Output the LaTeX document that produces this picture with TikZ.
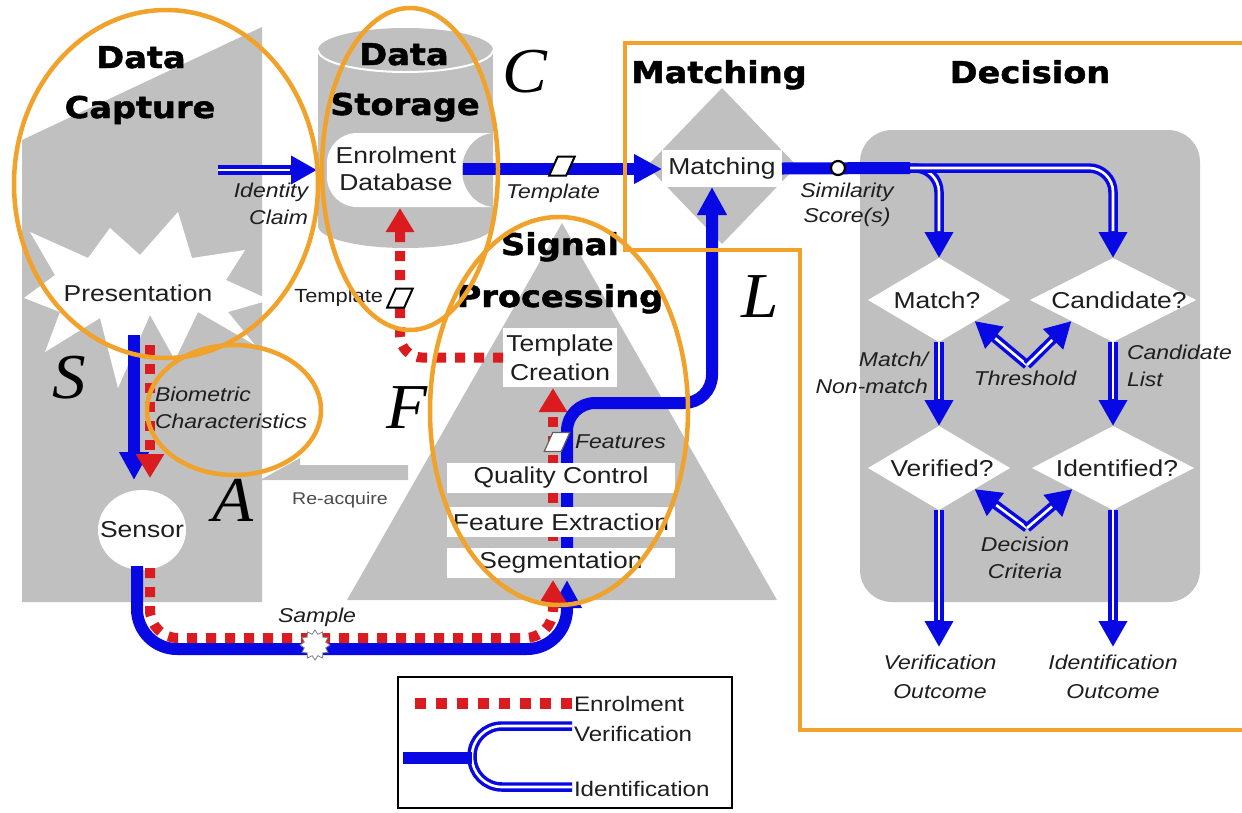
\documentclass[tikz,border=0pt]{standalone}
\usepackage{fontspec}
\setmainfont{Liberation Sans}[FakeStretch=1.15]
\newfontfamily\headfont{DejaVu Sans Bold}[FakeStretch=1.12, RawFeature={embolden=1.6}]
\newfontfamily\letterfont{Liberation Serif}[FakeStretch=1.05]
\usetikzlibrary{arrows.meta,shapes.geometric}

\definecolor{panel}{RGB}{192,192,192}
\definecolor{ringc}{RGB}{240,162,42}
\definecolor{flow}{RGB}{8,8,228}
\definecolor{enrol}{RGB}{218,28,32}
\definecolor{ink}{RGB}{30,30,30}

\tikzset{
  every node/.style={inner sep=0pt, outer sep=0pt, text=ink},
  headtxt/.style={font=\headfont\fontsize{30}{30}\selectfont, text=black, anchor=base},
  lbltxt/.style={font=\fontsize{23}{29}\selectfont, align=center},
  notetxt/.style={font=\itshape\fontsize{20}{27}\selectfont, align=center},
  bigletter/.style={font=\letterfont\itshape\fontsize{64}{64}\selectfont, text=black},
  stagebox/.style={fill=white, minimum height=30pt, minimum width=228pt, lbltxt},
  ringline/.style={draw=ringc, line width=4.5pt},
  thickflow/.style={draw=flow, line width=12pt},
  bigtip/.style={-{Triangle[length=28pt,width=28pt]}},
  enroldash/.style={draw=enrol, line width=10pt, dash pattern=on 10pt off 9pt},
  enrolarrow/.style={enroldash, -{Triangle[length=24pt,width=27pt]}},
  twinpath/.style={draw=flow, line width=9.5pt, postaction={draw=white, line width=2.6pt}},
  twinarrow/.style={draw=flow, line width=9.5pt, -{Triangle[length=26pt,width=27pt]},
     postaction={draw=white, line width=2.6pt, -, shorten >=27pt}},
  paramshape/.style={draw=black, fill=white, line width=2pt, minimum width=17pt, minimum height=19pt, xslant=0.45},
  verdictshape/.style={diamond, fill=white, minimum height=84pt},
}

\begin{document}
\begin{tikzpicture}[x=1pt,y=-1pt]
\useasboundingbox (0,0) rectangle (1242,812);
\fill[white] (0,0) rectangle (1242,812);

% ---------- grey stage panels ----------
\fill[panel] (22,140) -- (262,27) -- (262,602) -- (22,602) -- cycle;
% re-acquire arrow back into data capture
\fill[panel] (408,465) -- (300,465) -- (300,458) -- (262,479) -- (262,480) -- (408,480) -- cycle;
% storage cylinder
\fill[panel] (318,50) rectangle (493,226);
\fill[panel] (405.5,226) ellipse [x radius=87.5, y radius=22];
\fill[panel] (405.5,50) ellipse [x radius=87.5, y radius=22];
\draw[white, line width=2pt] (318,50) arc [start angle=180, end angle=0, x radius=87.5, y radius=22];
% signal processing pyramid
\fill[panel] (347,600) -- (562,223) -- (777,600) -- cycle;
% matching diamond
\node[diamond, fill=panel, minimum width=150pt, minimum height=156pt] (mdia) at (722,166) {};
% decision panel
\fill[panel, rounded corners=32pt] (860,130) rectangle (1200,602);

% ---------- white shapes ----------
% presentation burst
\fill[white] (30,232) -- (88,258) -- (110,228) -- (140,255) -- (178,212) -- (192,258)
  -- (245,250) -- (226,280) -- (270,300) -- (228,312) -- (255,345) -- (198,312)
  -- (175,360) -- (150,315) -- (118,388) -- (100,318) -- (45,352) -- (60,312)
  -- (24,298) -- (55,275) -- cycle;
\node[lbltxt] (pres) at (138,293) {Presentation};
% enrolment database drum
\begin{scope}
  \clip (318,100) rectangle (493,240);
  \node[fill=white, rounded corners=30pt, minimum width=200pt, minimum height=74pt, anchor=west] (dbshape) at (327,170) {};
  \fill[panel] (495,170) ellipse [x radius=33, y radius=37];
\end{scope}
\node[font=\fontsize{23}{27}\selectfont, align=center, minimum width=134pt, minimum height=74pt] (db) at (396,169) {Enrolment\\Database};
% sensor
\node[ellipse, fill=white, minimum width=88pt, minimum height=80pt] (sensor) at (142,530) {};
\node[lbltxt] (sensortxt) at (sensor) {Sensor};
% decision diamonds
\node[verdictshape, minimum width=142pt] (match) at (939,300) {};
\node[verdictshape, minimum width=166pt] (cand) at (1113,300) {};
\node[verdictshape, minimum width=142pt] (verif) at (939,468) {};
\node[verdictshape, minimum width=162pt] (ident) at (1113,468) {};

% ---------- way points ----------
\coordinate (presB) at (134,335);
\coordinate (sensInB) at (134,480);
\coordinate (presR) at (150,345);
\coordinate (sensInR) at (150,478);
\coordinate (sensOutB) at (137,566);
\coordinate (loopB) at (567,649);
\coordinate (segInB) at (567,580);
\coordinate (sensOutR) at (150,568);
\coordinate (loopR) at (553,638);
\coordinate (segInR) at (553,580);
\coordinate (stackB) at (567,560);
\coordinate (turnB) at (712,403);
\coordinate (stackR) at (553,560);
\coordinate (dbinR) at (400,208);
\coordinate (idfrom) at (218,170);
\coordinate (idto) at (317,170);
\coordinate (split) at (910,168);
\coordinate (branch) at (895,168);
\coordinate (thr) at (1027,365);
\coordinate (crit) at (1027,528);
\coordinate (vtip) at (939,647);
\coordinate (itip) at (1113,647);

% ---------- enrolment / verification / identification flows ----------
\draw[thickflow, bigtip] (presB) -- (sensInB);
\draw[enrolarrow] (presR) -- (sensInR);
\draw[thickflow, bigtip, rounded corners=40pt] (sensOutB) |- (loopB) -- (segInB);
\draw[enrolarrow, rounded corners=28pt] (sensOutR) |- (loopR) -- (segInR);
\draw[thickflow, bigtip, rounded corners=28pt] (stackB) |- (turnB) -- (turnB |- 0,187);
\draw[enrolarrow] (stackR) -- (stackR |- 0,388);
\draw[twinarrow] (idfrom) -- (idto);
\draw[thickflow, bigtip] (db.east) -- (662,169);

% signal processing stages
\node[fill=white, minimum width=114pt, minimum height=59pt, lbltxt] (tc) at (560,357.5) {Template\\Creation};
\node[stagebox] (qc) at (561,478) {Quality Control};
\node[stagebox] (fe) at (561,522) {Feature Extraction};
\node[stagebox] (seg) at (561,563) {Segmentation};
\draw[enrolarrow, rounded corners=22pt] (tc.west) -| (dbinR);

% matching
\node[fill=white, minimum width=120pt, minimum height=37pt, lbltxt] (mbox) at (722,168.5) {Matching};

% decision flows
\draw[twinarrow, rounded corners=24pt] (branch) -| (match.north);
\draw[twinarrow, rounded corners=24pt] (branch) -| (cand.north);
\draw[thickflow] (mbox.east) -- (split);
\node[circle, draw=black, fill=white, line width=2.2pt, minimum size=14pt] (sim) at (838,168) {};
\draw[twinarrow] (match.south) -- (verif.north);
\draw[twinarrow] (cand.south) -- (ident.north);
\draw[twinarrow] (thr) -- (match.south east);
\draw[twinarrow] (thr) -- (cand.south west);
\draw[twinarrow] (crit) -- (verif.south east);
\draw[twinarrow] (crit) -- (ident.south west);
\draw[twinarrow] (verif.south) -- (vtip);
\draw[twinarrow] (ident.south) -- (itip);

\node[lbltxt] (matchtxt) at (937,300) {Match?};
\node[lbltxt] (candtxt) at (1119,300) {Candidate?};
\node[lbltxt] (veriftxt) at (942,468) {Verified?};
\node[lbltxt] (identtxt) at (1117,468) {Identified?};

% data items on the flows
\node[paramshape] (tplA) at (562,166) {};
\node[paramshape] (tplB) at (400,298) {};
\node[paramshape, draw=ink!70, line width=1.2pt] (feat) at (557,442) {};
\node[star, star points=12, star point ratio=1.35, fill=white, draw=gray, line width=0.8pt, minimum size=30pt] (smp) at (315,645) {};

% ---------- labels ----------
\node[notetxt, align=right, anchor=east] (idlbl) at (308,204) {Identity\\Claim};
\node[notetxt] (tplAlbl) at (553,193) {Template};
\node[font=\fontsize{19}{19}\selectfont, anchor=east] (tplBlbl) at (383,298) {Template};
\node[notetxt, align=left, anchor=west] (biolbl) at (155,408) {Biometric\\Characteristics};
\node[font=\fontsize{17}{17}\selectfont, text=ink!80] (reacq) at (340,500) {Re-acquire};
\node[notetxt, anchor=west] (featlbl) at (575,442) {Features};
\node[notetxt] (smplbl) at (317,617) {Sample};
\node[notetxt, font=\itshape\fontsize{20}{25}\selectfont] (simlbl) at (847,205) {Similarity\\Score(s)};
\node[notetxt, align=right, anchor=east] (mnm) at (928,373) {Match/\\Non-match};
\node[notetxt, align=left, anchor=west] (clist) at (1127,366) {Candidate\\List};
\node[notetxt] (thrlbl) at (1025,378) {Threshold};
\node[notetxt] (critlbl) at (1025,558) {Decision\\Criteria};
\node[notetxt, font=\itshape\fontsize{20}{29}\selectfont] (vout) at (940,677) {Verification\\Outcome};
\node[notetxt, font=\itshape\fontsize{20}{29}\selectfont] (iout) at (1113,677) {Identification\\Outcome};

% stage titles
\node[headtxt] (tCap1) at (141,68) {Data};
\node[headtxt] (tCap2) at (140,118) {Capture};
\node[headtxt] (tSto1) at (404,65) {Data};
\node[headtxt] (tSto2) at (405,115) {Storage};
\node[headtxt] (tMat) at (719,83) {Matching};
\node[headtxt] (tDec) at (1030,83) {Decision};
\node[headtxt] (tSig1) at (560,255) {Signal};
\node[headtxt] (tSig2) at (560,307) {Processing};

% ---------- legend ----------
\node[draw=black, line width=2pt, minimum width=334pt, minimum height=131pt, anchor=north west] (legend) at (398,677) {};
\coordinate (legE1) at (415,703);
\coordinate (legE2) at (572,703);
\coordinate (legB1) at (403,758);
\coordinate (legB2) at (472,758);
\coordinate (legV) at (572,726);
\coordinate (legVc) at (472,726);
\coordinate (legIc) at (472,787);
\coordinate (legI) at (572,787);
\draw[draw=enrol, line width=11pt, dash pattern=on 11pt off 9.9pt] (legE1) -- (legE2);
\draw[twinpath, rounded corners=30pt] (legV) -- (legVc) -- (legIc) -- (legI);
\draw[thickflow] (legB1) -- (legB2);
\node[font=\fontsize{21}{21}\selectfont, anchor=west] (legEt) at (574,704) {Enrolment};
\node[font=\fontsize{21}{21}\selectfont, anchor=west] (legVt) at (574,734) {Verification};
\node[font=\fontsize{21}{21}\selectfont, anchor=west] (legIt) at (574,789) {Identification};

% ---------- subsystem rings ----------
\draw[ringline] (166,184) ellipse [x radius=152, y radius=174];
\draw[ringline] (410,169) ellipse [x radius=88, y radius=161];
\draw[ringline] (234,410) ellipse [x radius=87, y radius=65];
\draw[ringline] (559,411) ellipse [x radius=129, y radius=194];
\draw[ringline] (1260,43) -- (625,43) -- (625,250) -- (800,250) -- (800,730) -- (1260,730);

% subsystem letters
\node[bigletter] (letS) at (69,378) {S};
\node[bigletter] (letC) at (525,72) {C};
\node[bigletter] (letF) at (407,408) {F};
\node[bigletter] (letA) at (233,500) {A};
\node[bigletter] (letL) at (760,297) {L};
\end{tikzpicture}
\end{document}
